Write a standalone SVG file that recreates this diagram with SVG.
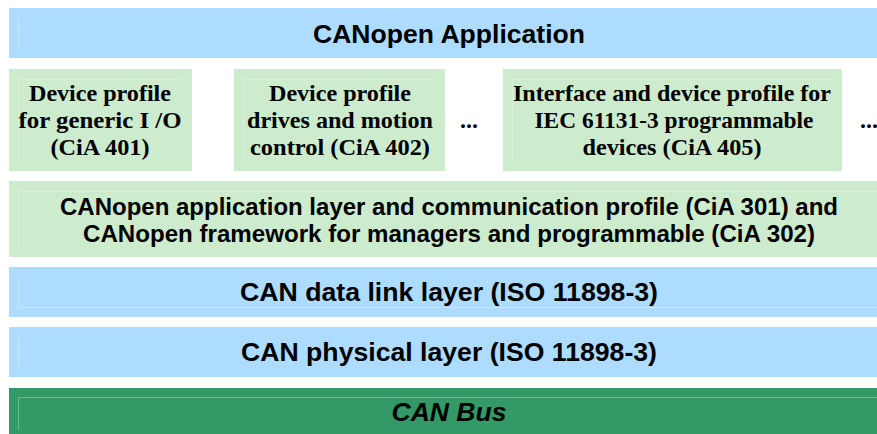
<svg xmlns="http://www.w3.org/2000/svg" width="877" height="434" viewBox="0 0 877 434">
<style>
.blue{fill:#addcfe}
.lg{fill:#cdebcd}
.dg{fill:#339966}
.hl{fill:none;stroke:#ffffff;stroke-opacity:0.3;stroke-width:1}
.sans{font-family:"Liberation Sans",Arial,sans-serif;font-weight:bold;fill:#000;text-anchor:middle}
.serif{font-family:"Liberation Serif","Times New Roman",serif;font-weight:bold;fill:#000;text-anchor:middle;font-size:24px}
</style>
<rect width="877" height="434" fill="#fff"/>
<g id="app">
<rect class="blue" x="9" y="8" width="868" height="50"/>
<path class="hl" d="M18.5,18 V48.5"/>
<text class="sans" x="449" y="43" font-size="26.5" textLength="272" lengthAdjust="spacingAndGlyphs">CANopen Application</text>
</g>
<g id="cia401">
<rect class="lg" x="9" y="69" width="183" height="102"/>
<path class="hl" d="M18.5,161 V79.5 H182"/>
<text class="serif" x="100" y="101" textLength="142" lengthAdjust="spacingAndGlyphs">Device profile</text>
<text class="serif" x="100" y="128" textLength="163" lengthAdjust="spacingAndGlyphs">for generic I /O</text>
<text class="serif" x="100" y="155" textLength="99" lengthAdjust="spacingAndGlyphs">(CiA 401)</text>
</g>
<g id="cia402">
<rect class="lg" x="234" y="69" width="211" height="102"/>
<path class="hl" d="M243.5,161 V79.5 H435"/>
<text class="serif" x="340" y="101" textLength="142" lengthAdjust="spacingAndGlyphs">Device profile</text>
<text class="serif" x="340" y="128" textLength="186" lengthAdjust="spacingAndGlyphs">drives and motion</text>
<text class="serif" x="340" y="155" textLength="180" lengthAdjust="spacingAndGlyphs">control (CiA 402)</text>
</g>
<g id="dots1"><text class="serif" x="469" y="128">...</text></g>
<g id="cia405">
<rect class="lg" x="503" y="69" width="339" height="102"/>
<path class="hl" d="M512.5,161 V79.5 H832"/>
<text class="serif" x="672" y="101" textLength="318" lengthAdjust="spacingAndGlyphs">Interface and device profile for</text>
<text class="serif" x="674" y="128" textLength="279" lengthAdjust="spacingAndGlyphs">IEC 61131-3 programmable</text>
<text class="serif" x="672" y="155" textLength="179" lengthAdjust="spacingAndGlyphs">devices (CiA 405)</text>
</g>
<g id="dots2"><text class="serif" x="869" y="128">...</text></g>
<g id="cia301">
<rect class="lg" x="9" y="181" width="868" height="76"/>
<path class="hl" d="M18.5,247 V191.5 H877"/>
<text class="sans" x="449" y="215" font-size="24" textLength="778" lengthAdjust="spacingAndGlyphs">CANopen application layer and communication profile (CiA 301) and</text>
<text class="sans" x="449" y="242" font-size="24" textLength="732" lengthAdjust="spacingAndGlyphs">CANopen framework for managers and programmable (CiA 302)</text>
</g>
<g id="datalink">
<rect class="blue" x="9" y="267" width="868" height="50"/>
<path class="hl" d="M18.5,277 V307.5 H877"/>
<text class="sans" x="449" y="301" font-size="26.5" textLength="418" lengthAdjust="spacingAndGlyphs">CAN data link layer (ISO 11898-3)</text>
</g>
<g id="physical">
<rect class="blue" x="9" y="327" width="868" height="50"/>
<path class="hl" d="M18.5,337 V367"/>
<text class="sans" x="449" y="361" font-size="26.5" textLength="416" lengthAdjust="spacingAndGlyphs">CAN physical layer (ISO 11898-3)</text>
</g>
<g id="bus">
<rect class="dg" x="9" y="388" width="868" height="46"/>
<path class="hl" d="M18.5,430 V397.5 H877"/>
<text class="sans" x="449" y="421" font-size="25" font-style="italic" textLength="115" lengthAdjust="spacingAndGlyphs">CAN Bus</text>
</g>
</svg>
